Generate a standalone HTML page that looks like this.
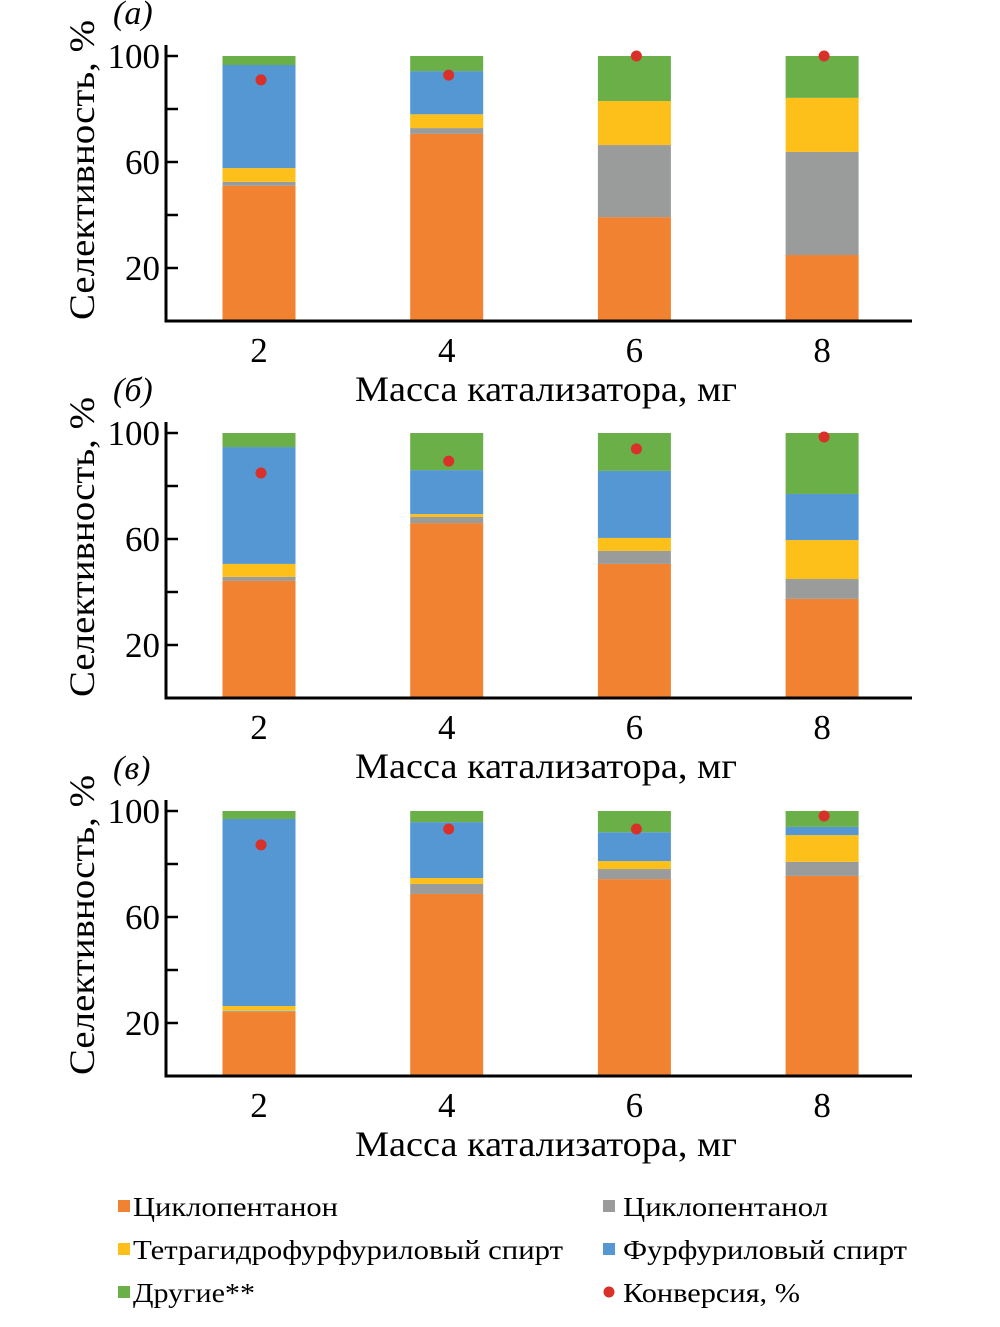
<!DOCTYPE html>
<html><head><meta charset="utf-8"><style>
body{margin:0;background:#fff;}
svg{display:block;font-family:"Liberation Serif","DejaVu Serif",serif;}
</style></head><body>
<svg id="chart" width="1000" height="1327" viewBox="0 0 1000 1327" xmlns="http://www.w3.org/2000/svg"></svg>
<script>
const categories = ["2","4","6","8"];
const seriesNames = ["Циклопентанон","Циклопентанол","Тетрагидрофурфуриловый спирт","Фурфуриловый спирт","Другие**"];
const panelLabels = ["(а)","(б)","(в)"];
const yTicks = [20,40,60,80,100];
const yTickLabels = ["20","","60","","100"];
// panel a segment values per category
const aCyclopentanone = [51,70.6,39.2,24.9];
const aCyclopentanol = [1.5,2.2,27.2,38.9];
const aTHFA = [5.2,5.2,16.6,20.4];
const aFA = [38.9,16.3,0,0];
const aOther = [3.4,5.7,17,15.8];
const aConversion = [91,92.8,100,100];
// panel b
const bCyclopentanone = [44.2,66,50.6,37.4];
const bCyclopentanol = [1.5,2.3,4.9,7.5];
const bTHFA = [4.9,1.1,4.9,14.7];
const bFA = [44.1,16.6,25.3,17.4];
const bOther = [5.3,14,14.3,23];
const bConversion = [84.9,89.4,94,98.5];
// panel c
const cCyclopentanone = [24.2,68.7,74.3,75.5];
const cCyclopentanol = [0.4,3.8,3.8,5.3];
const cTHFA = [1.8,2.2,3,10.1];
const cFA = [70.6,21.1,10.9,3.1];
const cOther = [3,4.2,8,6];
const cConversion = [87.2,93.2,93.2,98.1];

const panels = [
 {segs:[aCyclopentanone,aCyclopentanol,aTHFA,aFA,aOther],conv:aConversion,y0:321},
 {segs:[bCyclopentanone,bCyclopentanol,bTHFA,bFA,bOther],conv:bConversion,y0:698},
 {segs:[cCyclopentanone,cCyclopentanol,cTHFA,cFA,cOther],conv:cConversion,y0:1076}
];
const colors=["#F08232","#9A9C9C","#FDBF1A","#5497D3","#6AAF48"];
const svg=document.getElementById('chart');
const NS="http://www.w3.org/2000/svg";
function mk(tag,attrs,parent){const e=document.createElementNS(NS,tag);for(const k in attrs)e.setAttribute(k,attrs[k]);(parent||svg).appendChild(e);return e;}
const scaleK=2.65;
const xCenters=i=>259+i*187.7;
const barW=73;

panels.forEach((p,pi)=>{
 const g=mk('g',{});
 
 
 const y=v=>p.y0-v*scaleK;
 categories.forEach((c,ci)=>{
  let acc=0;
  p.segs.forEach((arr,si)=>{
   const v=arr[ci]; if(v<=0){return;}
   const r=mk('rect',{x:xCenters(ci)-barW/2,y:y(acc+v),width:barW,height:v*scaleK,fill:colors[si]},g);
   
   
   acc+=v;
  });
  const d=mk('circle',{cx:xCenters(ci)+2,cy:y(p.conv[ci]),r:5.5,fill:"#D9302A"},g);
  
  
  const t=mk('text',{x:xCenters(ci),y:p.y0+41,'font-size':35,'text-anchor':'middle'},g);
  t.textContent=c;
  
  
 });
 const ax=mk('path',{d:`M166 ${p.y0-276} V${p.y0} H912`,stroke:"#000","stroke-width":3,fill:"none"},g);
 
 
 yTicks.forEach((tv,ti)=>{
  const tk=mk('line',{x1:166,x2:178,y1:y(tv),y2:y(tv),stroke:"#000","stroke-width":2.5},g);
  
  
  if(yTickLabels[ti]){
   const tl=mk('text',{x:160,y:y(tv)+12,'font-size':35,'text-anchor':'end'},g);
   tl.textContent=yTickLabels[ti];
   
   
  }
 });
 const yt=mk('text',{x:0,y:0,'font-size':36,'text-anchor':'middle',textLength:300,lengthAdjust:'spacingAndGlyphs',transform:`translate(94 ${p.y0-151}) rotate(-90)`},g);
 yt.textContent="Селективность, %";
 
 
 const xt=mk('text',{x:355,y:p.y0+80,'font-size':36,textLength:382,lengthAdjust:'spacingAndGlyphs'},g);
 xt.textContent="Масса катализатора, мг";
 
 
 const pl=mk('text',{x:113,y:p.y0-297,'font-size':34,'font-style':'italic'},g);
 pl.textContent=panelLabels[pi];
 
 
});

const legendItems=[
 {n:seriesNames[0],c:colors[0],x:118,y:1207,w:205},
 {n:seriesNames[1],c:colors[1],x:603,y:1207,w:205},
 {n:seriesNames[2],c:colors[2],x:118,y:1250,w:430},
 {n:seriesNames[3],c:colors[3],x:603,y:1250,w:284},
 {n:seriesNames[4],c:colors[4],x:118,y:1293,w:122},
 {n:"Конверсия, %",c:"#D9302A",x:603,y:1293,w:177,dot:true}
];
legendItems.forEach(it=>{
 const g=mk('g',{});
 
 
 if(it.dot) mk('circle',{cx:it.x+6,cy:it.y-1,r:5.5,fill:it.c},g);
 else mk('rect',{x:it.x,y:it.y-7,width:12,height:12,fill:it.c},g);
 const t=mk('text',{x:it.x+(it.x>500?20:15),y:it.y+9,'font-size':27,textLength:it.w,lengthAdjust:'spacingAndGlyphs'},g);
 t.textContent=it.n;
});
</script>
</body></html>
